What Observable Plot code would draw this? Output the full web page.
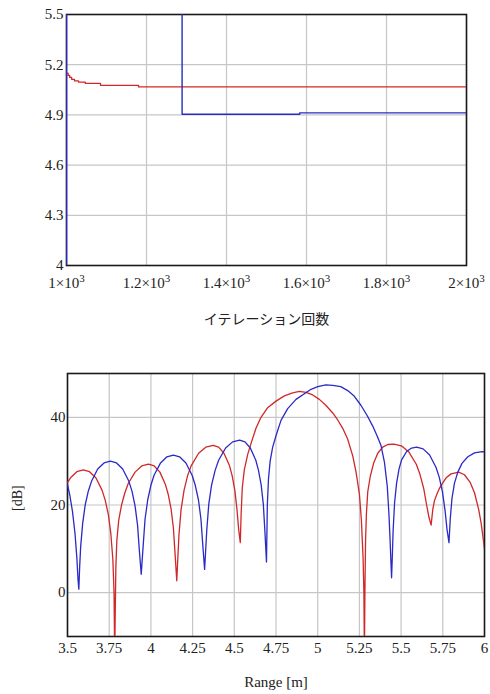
<!DOCTYPE html>
<html><head><meta charset="utf-8">
<script src="https://cdn.jsdelivr.net/npm/d3@7"></script>
<script src="https://cdn.jsdelivr.net/npm/@observablehq/plot@0.6"></script>
<style>
body{margin:0;background:#fff;}
#wrap{width:490px;}
#wrap svg{display:block;}
#wrap svg text{font-family:'Liberation Serif','Times New Roman',serif;}
#wrap svg text.jp{font-family:'Noto Sans CJK JP',sans-serif;}
</style></head><body><div id="wrap"></div>
<script>
// ---- Top chart: iteration convergence ----
const iterTicks = [1000, 1200, 1400, 1600, 1800, 2000];
const iterTickLabels = ["1×10³", "1.2×10³", "1.4×10³", "1.6×10³", "1.8×10³", "2×10³"];
const estTicks = [4, 4.3, 4.6, 4.9, 5.2, 5.5];
const iterLabel = "イテレーション回数";

const redIter = [1000, 1004, 1008, 1013, 1020, 1030, 1047, 1085, 1180, 2000];
const redEst  = [5.150, 5.136, 5.124, 5.112, 5.103, 5.096, 5.088, 5.077, 5.067, 5.067];

const blueIter = [1000, 1000, 1289, 1289, 1583, 1583, 2000];
const blueEst  = [3.8, 5.7, 5.7, 4.904, 4.904, 4.912, 4.912];

// ---- Bottom chart: range profile ----
const rangeTicks = [3.5, 3.75, 4, 4.25, 4.5, 4.75, 5, 5.25, 5.5, 5.75, 6];
const rangeTickLabels = ["3.5", "3.75", "4", "4.25", "4.5", "4.75", "5", "5.25", "5.5", "5.75", "6"];
const dbTicks = [0, 20, 40];
const rangeLabel = "Range [m]";
const dbLabel = "[dB]";

const redRange = [
  3.5, 3.518, 3.556, 3.594, 3.632, 3.670, 3.707, 3.726, 3.745, 3.760, 3.772, 3.779, 3.783,
  3.786, 3.790, 3.796, 3.807, 3.824, 3.844, 3.864, 3.905, 3.945, 3.986, 4.020, 4.054, 4.087, 4.104, 4.121, 4.135, 4.145, 4.155,
  4.168, 4.181, 4.199, 4.220, 4.242, 4.286, 4.329, 4.373, 4.406, 4.438, 4.471, 4.487, 4.503, 4.516, 4.526, 4.536,
  4.541, 4.548, 4.56, 4.58, 4.60, 4.63, 4.66, 4.70, 4.75, 4.80, 4.85, 4.89, 4.93, 4.97, 5.01, 5.05, 5.09, 5.12, 5.15, 5.18, 5.21, 5.23, 5.25, 5.262, 5.272, 5.277, 5.28,
  5.283, 5.287, 5.292, 5.30, 5.315, 5.335, 5.36, 5.39, 5.42, 5.457, 5.502, 5.546, 5.591, 5.613, 5.636, 5.653, 5.667, 5.68,
  5.69, 5.70, 5.715, 5.73, 5.746, 5.77, 5.80, 5.845, 5.88, 5.915, 5.94, 5.965, 5.98, 5.994, 6.0
];
const redDb = [
  25.1, 26.2, 27.6, 28.0, 27.6, 26.2, 23.4, 21.1, 17.8, 13.4, 7.5, 0, -15,
  -5, 6, 12, 16.5, 20, 22.8, 24.9, 27.5, 28.9, 29.3, 28.9, 27.5, 24.7, 22.4, 19.1, 14.7, 8.8, 2.7,
  13.1, 19.0, 23.4, 26.7, 29.0, 31.8, 33.2, 33.6, 33.2, 31.8, 29.0, 26.7, 23.4, 19.0, 14.5, 11.4,
  18, 24, 28, 31.5, 34, 37.5, 40, 42.2, 43.7, 44.9, 45.6, 45.9, 45.7, 45.1, 44.1, 42.7, 41.0, 39.4, 37.5, 35.0, 31.2, 27.5, 22.5, 16.5, 8, 0, -15,
  0, 12, 18, 23, 26.5, 29.5, 31.8, 33.2, 33.8, 33.9, 33.5, 32.1, 29.3, 27.0, 23.7, 20.0, 17.2, 15.4,
  19, 21, 22.5, 23.8, 24.8, 26.2, 27.1, 27.5, 26.9, 25.1, 22.8, 19.0, 15.8, 11.8, 10
];

const blueRange = [
  3.5, 3.515, 3.53, 3.545, 3.556, 3.563, 3.568,
  3.573, 3.579, 3.591, 3.606, 3.625, 3.644, 3.681, 3.719, 3.757, 3.794, 3.831, 3.868, 3.887, 3.905, 3.920, 3.931, 3.942,
  3.954, 3.965, 3.981, 4.000, 4.019, 4.058, 4.096, 4.135, 4.172, 4.210, 4.247, 4.266, 4.285, 4.300, 4.311, 4.322,
  4.335, 4.347, 4.364, 4.385, 4.406, 4.448, 4.490, 4.532, 4.564, 4.596, 4.629, 4.645, 4.661, 4.674, 4.683, 4.693,
  4.698, 4.705, 4.715, 4.73, 4.75, 4.78, 4.82, 4.87, 4.92, 4.96, 5.0, 5.049, 5.09, 5.138, 5.18, 5.22, 5.26, 5.298, 5.33, 5.357, 5.38, 5.40, 5.417, 5.427, 5.434, 5.439, 5.443,
  5.448, 5.452, 5.461, 5.473, 5.488, 5.503, 5.533, 5.563, 5.593, 5.632, 5.671, 5.709, 5.729, 5.748, 5.764, 5.775, 5.787,
  5.795, 5.805, 5.82, 5.84, 5.865, 5.90, 5.94, 5.985, 6.0
];
const blueDb = [
  24.7, 22, 18.5, 13.5, 8, 3, 0.8,
  6, 10.5, 15.8, 20, 23.2, 25.4, 28.2, 29.6, 30.0, 29.6, 28.2, 25.4, 23.1, 19.8, 15.4, 9.5, 4.2,
  10.9, 16.8, 21.2, 24.5, 26.8, 29.6, 31.0, 31.4, 31.0, 29.6, 26.8, 24.5, 21.2, 16.8, 10.9, 5.3,
  14.3, 20.2, 24.6, 27.9, 30.2, 33.0, 34.4, 34.8, 34.4, 33.0, 30.2, 27.9, 24.6, 20.2, 14.3, 7.0,
  20, 26, 30, 33.2, 35.8, 39.3, 42.0, 44.1, 45.4, 46.4, 47.0, 47.4, 47.3, 47.0, 46.1, 44.8, 42.7, 40.3, 38.0, 35.7, 33.5, 29.8, 24.3, 18, 12, 7, 3.4,
  9, 14, 20.5, 25, 28.3, 30.3, 32.2, 33.0, 33.2, 32.8, 31.4, 28.6, 26.3, 23.0, 18.6, 14.5, 11.4,
  17, 21.5, 25, 27.5, 29.5, 31.0, 31.9, 32.2, 32.1
];

const RED = "#d02828";
const BLUE = "#2a2ac6";
const GRID = "#c6c6c6";
const serif = "Liberation Serif";

const topRed = redIter.map((x, i) => ({x, y: redEst[i]}));
const topBlue = blueIter.map((x, i) => ({x, y: blueEst[i]}));
const botRed = redRange.map((x, i) => ({x, y: redDb[i]}));
const botBlue = blueRange.map((x, i) => ({x, y: blueDb[i]}));

const topChart = Plot.plot({
  width: 490, height: 340,
  marginLeft: 66, marginRight: 24, marginTop: 14, marginBottom: 75,
  style: {fontFamily: serif, fontSize: "15px", color: "#222", background: "#fff"},
  x: {domain: [1000, 2000], label: null},
  y: {domain: [4, 5.5], label: null},
  marks: [
    Plot.gridX(iterTicks, {stroke: GRID, strokeOpacity: 1, strokeWidth: 1.2}),
    Plot.gridY(estTicks, {stroke: GRID, strokeOpacity: 1, strokeWidth: 1.2}),
    Plot.axisX(iterTicks, {tickSize: 0, tickPadding: 12, tickFormat: d => iterTickLabels[iterTicks.indexOf(d)], label: null, fontSize: 15, fontFamily: serif}),
    Plot.axisY(estTicks, {tickSize: 0, tickPadding: 3, tickFormat: d => String(d), label: null, fontSize: 15, fontFamily: serif}),
    Plot.frame({stroke: "#1a1a1a", strokeWidth: 1.6}),
    Plot.line(topRed, {x: "x", y: "y", stroke: RED, strokeWidth: 1.3, curve: "step-after", clip: true}),
    Plot.line(topBlue, {x: "x", y: "y", stroke: BLUE, strokeWidth: 1.4, clip: true}),
    Plot.text([iterLabel], {frameAnchor: "bottom", dy: 58, fontFamily: "Noto Sans CJK JP", fontSize: 14, fill: "#222"})
  ]
});

const botChart = Plot.plot({
  width: 490, height: 354,
  marginLeft: 67, marginRight: 6, marginTop: 33, marginBottom: 58,
  style: {fontFamily: serif, fontSize: "15px", color: "#222", background: "#fff"},
  x: {domain: [3.5, 6], label: null},
  y: {domain: [-10, 50], label: null},
  marks: [
    Plot.gridX(rangeTicks, {stroke: GRID, strokeOpacity: 1, strokeWidth: 1.2}),
    Plot.gridY(dbTicks, {stroke: GRID, strokeOpacity: 1, strokeWidth: 1.2}),
    Plot.axisX(rangeTicks, {tickSize: 0, tickPadding: 6, tickFormat: d => rangeTickLabels[rangeTicks.indexOf(d)], label: null, fontSize: 15, fontFamily: serif}),
    Plot.axisY(dbTicks, {tickSize: 0, tickPadding: 2, tickFormat: d => String(d), label: null, fontSize: 15, fontFamily: serif}),
    Plot.frame({stroke: "#1a1a1a", strokeWidth: 1.6}),
    Plot.line(botRed, {x: "x", y: "y", stroke: RED, strokeWidth: 1.3, clip: true}),
    Plot.line(botBlue, {x: "x", y: "y", stroke: BLUE, strokeWidth: 1.3, clip: true}),
    Plot.text([rangeLabel], {frameAnchor: "bottom", dy: 50, fontFamily: serif, fontSize: 15, fill: "#222"}),
    Plot.text([dbLabel], {frameAnchor: "left", dx: -50, dy: 6, rotate: -90, fontFamily: serif, fontSize: 14, fill: "#222"})
  ]
});

const wrap = document.getElementById("wrap");
wrap.appendChild(topChart);
wrap.appendChild(botChart);

// Japanese label uses the CJK font; exponent drawn as a raised superscript
const SVGNS = "http://www.w3.org/2000/svg";
wrap.querySelectorAll("svg text").forEach(t => {
  const s = t.textContent;
  if (s === iterLabel) t.classList.add("jp");
  if (s.endsWith("³")) {
    const base = s.slice(0, -1);
    while (t.firstChild) t.removeChild(t.firstChild);
    t.appendChild(document.createTextNode(base));
    const sup = document.createElementNS(SVGNS, "tspan");
    sup.setAttribute("dy", "-6");
    sup.setAttribute("font-size", "11");
    sup.textContent = "3";
    t.appendChild(sup);
  }
});
</script>
</body></html>
